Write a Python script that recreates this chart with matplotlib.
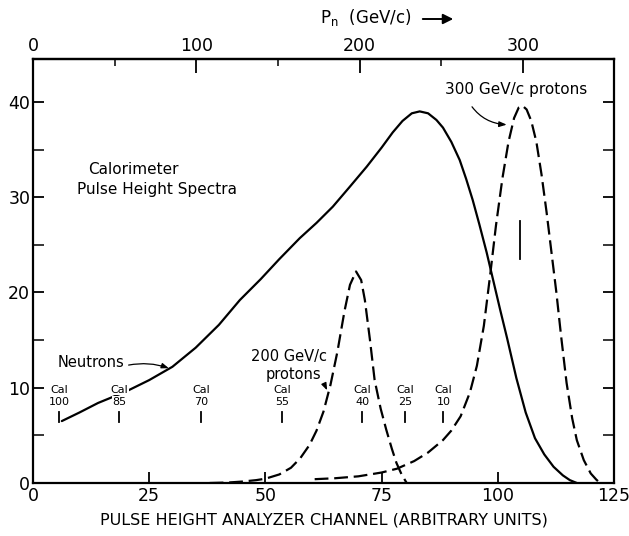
import matplotlib
matplotlib.use("Agg")
import matplotlib.pyplot as plt
from matplotlib.patches import FancyArrowPatch
from matplotlib.ticker import FixedLocator

# --- data -------------------------------------------------------------
neutron_ch = [6.2, 10, 14, 20, 25, 30, 35, 40, 44.5, 49, 53, 57.4, 61, 64.5,
              68, 71.8, 75, 77.4, 79.5, 81.5, 83.2, 85, 86.8, 88.2, 90, 91.8,
              93.2, 94.6, 96, 97.6, 99, 100.5, 102, 104, 106, 108, 110, 112,
              114, 115.5, 117]
neutron_val = [6.5, 7.4, 8.4, 9.6, 10.8, 12.2, 14.2, 16.6, 19.2, 21.4, 23.5,
               25.7, 27.3, 29.0, 31.0, 33.2, 35.2, 36.8, 38.0, 38.8, 39.0,
               38.8, 38.1, 37.3, 35.8, 33.9, 31.9, 29.7, 27.2, 24.2, 21.3,
               18.2, 15.2, 11.0, 7.4, 4.7, 3.0, 1.7, 0.8, 0.3, 0.0]

p200_ch = [38, 42, 45, 48, 50, 53, 55.5, 57.5, 59.5, 61, 62.5, 64, 65.5, 67,
           68.2, 69.5, 70.6, 71.4, 72.5, 73.5, 74.8, 76, 77.2, 78.2, 79.3, 80.4]
p200_val = [0.0, 0.05, 0.15, 0.3, 0.45, 0.9, 1.6, 2.6, 4.0, 5.5, 7.5, 10.3,
            13.8, 18.0, 20.8, 22.2, 21.3, 19.2, 15.0, 10.8, 7.8, 5.6, 3.6,
            2.1, 0.9, 0.0]

p300_ch = [60.6, 65, 70, 75, 78.3, 82, 85, 88.2, 90, 92, 94, 95.5, 97, 98.4,
           99.6, 101, 102.3, 103.5, 104.5, 105.3, 106.2, 107.2, 108.3, 109.4,
           110.5, 111.6, 112.6, 113.6, 114.8, 116, 117, 118.5, 120, 121.2, 122]
p300_val = [0.4, 0.5, 0.7, 1.1, 1.5, 2.3, 3.2, 4.5, 5.5, 7.0, 9.5, 12.3, 16.5,
            22.0, 27.0, 32.0, 35.8, 38.3, 39.4, 39.6, 39.2, 38.0, 35.8, 32.4,
            28.4, 24.0, 20.0, 15.5, 10.5, 6.8, 4.5, 2.4, 1.0, 0.35, 0.0]

# calibration settings marked along the channel axis
cal_channels = [5.7, 18.6, 36.1, 53.6, 70.8, 80.0, 88.3]
cal_labels = ["100", "85", "70", "55", "40", "25", "10"]
cal_300_channel = 104.8

# momentum scale: 300 GeV/c falls at channel 105.4
gev_per_channel = 300 / 105.4

x_ticks = [0, 25, 50, 75, 100, 125]
y_ticks = [0, 10, 20, 30, 40]
y_minor = [5, 15, 25, 35]
p_ticks = [0, 100, 200, 300]
p_minor = [50, 150, 250]

# --- figure -----------------------------------------------------------
plt.rcParams["font.family"] = ["DejaVu Sans"]
fig = plt.figure(figsize=(6.29, 5.36), dpi=100)
ax = fig.add_axes([33 / 629, 53 / 536, 581 / 629, 424 / 536])

lw = 1.6
dash = (0, (6.2, 2.6))
ax.plot(neutron_ch, neutron_val, color="black", lw=lw, solid_capstyle="round",
        zorder=2)
ax.plot(p200_ch, p200_val, color="black", lw=lw, linestyle=dash, zorder=2)
ax.plot(p300_ch, p300_val, color="black", lw=lw, linestyle=dash, zorder=2)

ax.set_xlim(0, 125)
ax.set_ylim(0, 44.5)

for s in ax.spines.values():
    s.set_linewidth(1.6)

ax.xaxis.set_major_locator(FixedLocator(x_ticks))
ax.yaxis.set_major_locator(FixedLocator(y_ticks))
ax.yaxis.set_minor_locator(FixedLocator(y_minor))
ax.tick_params(axis="both", which="major", direction="in", length=8,
               width=1.3, labelsize=12.5, pad=3)
ax.tick_params(axis="y", which="minor", direction="in", length=8, width=1.1)
ax.tick_params(axis="y", which="both", right=True)
ax.tick_params(axis="y", which="major", pad=2)

ax.set_xlabel("PULSE HEIGHT ANALYZER CHANNEL (ARBITRARY UNITS)",
              fontsize=11.5, labelpad=5)

# top momentum axis
top = ax.secondary_xaxis("top", functions=(lambda c: c * gev_per_channel,
                                           lambda p: p / gev_per_channel))
top.xaxis.set_major_locator(FixedLocator(p_ticks))
top.xaxis.set_minor_locator(FixedLocator(p_minor))
top.tick_params(which="major", direction="in", length=10, width=1.3,
                labelsize=12.5, pad=3)
top.tick_params(which="minor", direction="in", length=5, width=1.1)
top.spines["top"].set_linewidth(1.6)

fig.text(320 / 629, 1 - 18 / 536, r"P$_\mathrm{n}$  (GeV/c)", fontsize=12,
         ha="left", va="center")
fig.add_artist(FancyArrowPatch(
    (420 / 629, 1 - 19 / 536), (456 / 629, 1 - 19 / 536),
    transform=fig.transFigure, arrowstyle="-|>,head_length=6,head_width=3",
    color="black", lw=1.4))

# calibration marks (lettering blanks out the curve behind it)
cal_box = dict(facecolor="white", edgecolor="none", pad=0.3)
for ch, lab in zip(cal_channels, cal_labels):
    ax.text(ch, 9.8, "Cal", ha="center", va="center", fontsize=8,
            bbox=cal_box, zorder=3)
    ax.text(ch, 8.55, lab, ha="center", va="center", fontsize=8,
            bbox=cal_box, zorder=3)
    ax.plot([ch, ch], [6.4, 7.4], color="black", lw=1.3)
ax.plot([cal_300_channel, cal_300_channel], [23.5, 27.5], color="black", lw=1.3)

# labels
ax.text(21.5, 32.9, "Calorimeter", ha="center", va="center", fontsize=11)
ax.text(26.7, 30.8, "Pulse Height Spectra", ha="center", va="center",
        fontsize=11)

arrow_kw = dict(arrowstyle="-|>,head_length=0.4,head_width=0.15",
                color="black", lw=0.9)

ax.annotate("Neutrons", xy=(29.5, 12.0), xytext=(12.5, 12.6),
            ha="center", va="center", fontsize=10.5,
            arrowprops=dict(**arrow_kw, shrinkA=1, shrinkB=1,
                            relpos=(1.0, 0.3),
                            connectionstyle="arc3,rad=-0.15"))

ax.text(55.0, 13.3, "200 GeV/c", ha="center", va="center", fontsize=10.5)
ax.annotate("protons", xy=(63.4, 9.6), xytext=(56.0, 11.4),
            ha="center", va="center", fontsize=10.5,
            arrowprops=dict(**arrow_kw, shrinkA=1, shrinkB=1,
                            relpos=(1.0, 0.3)))

ax.annotate("300 GeV/c protons", xy=(102.2, 37.6), xytext=(103.9, 41.3),
            ha="center", va="center", fontsize=11,
            arrowprops=dict(**arrow_kw, shrinkA=6, shrinkB=1,
                            connectionstyle="arc3,rad=0.3",
                            relpos=(0.15, 0.0)))

fig.savefig("out.png", dpi=100)
